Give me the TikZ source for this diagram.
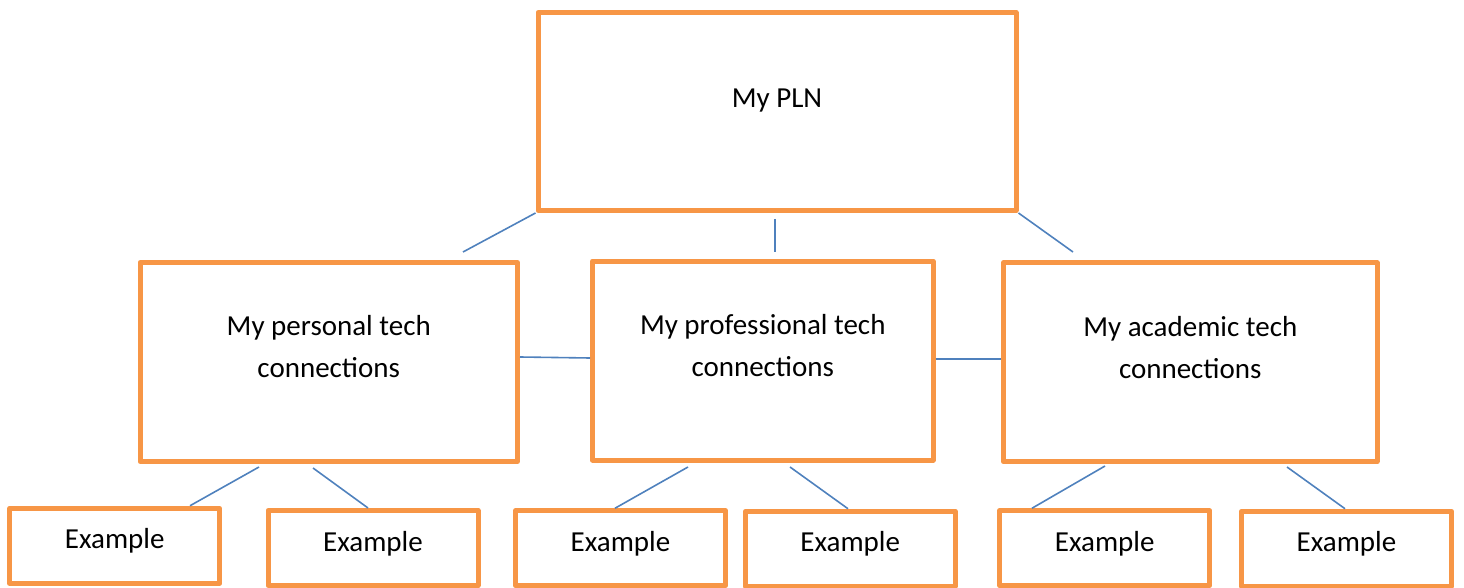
\documentclass[tikz,border=0pt]{standalone}
\usepackage{fontspec}
\setmainfont{Carlito}
\definecolor{boxorange}{HTML}{F79646}
\definecolor{linkblue}{HTML}{4F81BD}
\tikzset{
  box/.style={draw=boxorange, line width=5pt, line join=round, inner sep=0pt, rectangle},
  bigbox/.style={box, minimum width=#1, minimum height=199},
  exbox/.style={box, minimum width=210, minimum height=75},
  caption/.style={align=center, inner sep=0pt},
  link/.style={draw=linkblue, line width=1.6pt}
}

\begin{document}
\begin{tikzpicture}[x=1pt, y=-1pt, font=\fontsize{29}{42}\selectfont]
 \useasboundingbox (0,0) rectangle (1464,588);

 % top box
 \node[box, minimum width=478, minimum height=198] (pln) at (777,111.5) {};
 \node[caption] (t-pln) at ([yshift=11pt]pln.center) {My PLN};

 % middle row
 \node[bigbox=377.5] (personal) at (328.75,362) {};
 \node[caption] (t-personal) at ([yshift=15pt]personal.center) {My personal tech\\connections};
 \node[bigbox=340.5] (professional) at (762.75,360.5) {};
 \node[caption] (t-professional) at ([yshift=15pt]professional.center) {My professional tech\\connections};
 \node[bigbox=373.5] (academic) at (1190.25,362.25) {};
 \node[caption] (t-academic) at ([yshift=15pt]academic.center) {My academic tech\\connections};

 % bottom row
 \node[exbox] (ex1) at (114.75,545.75) {};
 \node[exbox] (ex2) at (373,548) {};
 \node[exbox] (ex3) at (620.5,548.25) {};
 \node[exbox] (ex4) at (850.25,548.75) {};
 \node[exbox] (ex5) at (1104.75,548.25) {};
 \node[exbox] (ex6) at (1346.5,548.75) {};
 \foreach \e in {ex1,ex2,ex3,ex4,ex5,ex6}
   \node[caption] (t-\e) at ([yshift=4.5pt]\e.center) {Example};

 % free ends of the links
 \coordinate (pln-l) at (463,252);
 \coordinate (pln-m1) at (775,219);
 \coordinate (pln-m2) at (775,252);
 \coordinate (pln-r) at (1073,252);
 \coordinate (personal-a) at (259,467);
 \coordinate (personal-b) at (313,468);
 \coordinate (professional-a) at (688,467);
 \coordinate (professional-b) at (790,467);
 \coordinate (academic-a) at (1105,466);
 \coordinate (academic-b) at (1287,467);

 % links
 \draw[link] (pln.south west) -- (pln-l);
 \draw[link] (pln-m1) -- (pln-m2);
 \draw[link] (pln.south east) -- (pln-r);
 \draw[link] (personal.east |- 0,357) -- (professional.west |- 0,358);
 \draw[link] (professional.east |- 0,359) -- (academic.west |- 0,359);
 \draw[link] (personal-a) -- (190,0 |- ex1.north);
 \draw[link] (personal-b) -- (368,0 |- ex2.north);
 \draw[link] (professional-a) -- (615,0 |- ex3.north);
 \draw[link] (professional-b) -- (848,0 |- ex4.north);
 \draw[link] (academic-a) -- (1032,0 |- ex5.north);
 \draw[link] (academic-b) -- (1345,0 |- ex6.north);
\end{tikzpicture}
\end{document}
